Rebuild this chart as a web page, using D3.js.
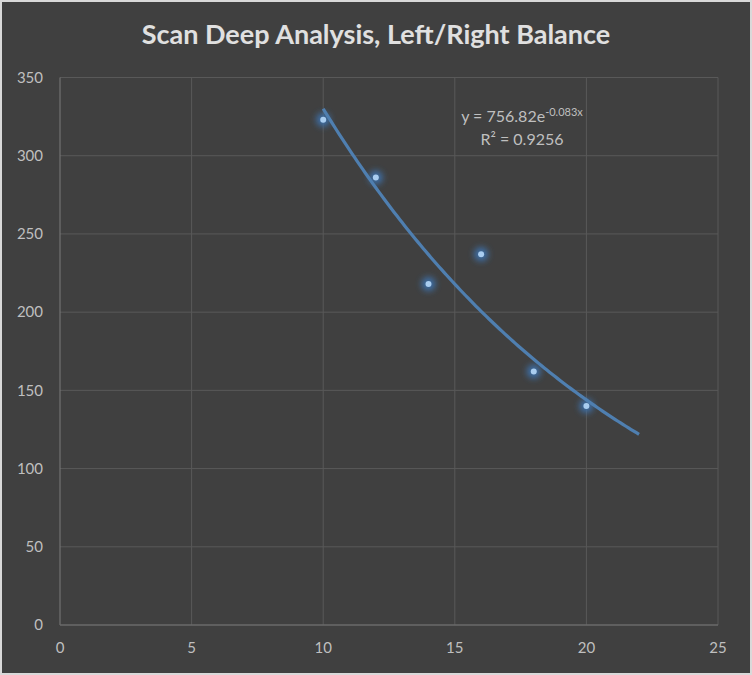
<!DOCTYPE html>
<html>
<head>
<meta charset="utf-8">
<script src="https://cdn.jsdelivr.net/npm/d3@7"></script>
<style>
  body { margin: 0; background: #fff; }
  text { font-family: Lato, "Open Sans", sans-serif; }
</style>
</head>
<body>
<div id="chart"></div>
<script>
// data
const xValues = [10, 12, 14, 16, 18, 20];
const yValues = [323, 286, 218, 237, 162, 140];
const xTicks = [0, 5, 10, 15, 20, 25];
const yTicks = [0, 50, 100, 150, 200, 250, 300, 350];
const trendA = 756.82;
const trendB = -0.083;
const trendRange = [10, 22];

const width = 752, height = 675;
const margin = { top: 77.5, right: 34, bottom: 50, left: 60 };

const svg = d3.select("#chart").append("svg")
  .attr("width", width).attr("height", height);

const defs = svg.append("defs");
const glow = defs.append("filter").attr("id", "glow")
  .attr("x", "-100%").attr("y", "-100%").attr("width", "300%").attr("height", "300%");
glow.append("feGaussianBlur").attr("stdDeviation", 3);

// background + border
svg.append("rect")
  .attr("x", 1).attr("y", 1).attr("width", width - 2).attr("height", height - 2)
  .attr("fill", "#404040").attr("stroke", "#d9d9d9").attr("stroke-width", 2);

// scales
const x = d3.scaleLinear().domain([0, 25]).range([margin.left, width - margin.right]);
const y = d3.scaleLinear().domain([0, 350]).range([height - margin.bottom, margin.top]);

// grid
svg.append("g").selectAll("line")
  .data(yTicks.filter(d => d > 0))
  .join("line")
  .attr("x1", x(0)).attr("x2", x(25))
  .attr("y1", d => y(d)).attr("y2", d => y(d))
  .attr("stroke", "#595959").attr("stroke-width", 1);

svg.append("g").selectAll("line")
  .data(xTicks.filter(d => d > 0))
  .join("line")
  .attr("x1", d => x(d)).attr("x2", d => x(d))
  .attr("y1", y(0)).attr("y2", y(350))
  .attr("stroke", "#595959").attr("stroke-width", 1);

// axis lines
svg.append("line")
  .attr("x1", x(0)).attr("x2", x(0)).attr("y1", y(0)).attr("y2", y(350))
  .attr("stroke", "#7a7a7a").attr("stroke-width", 1);
svg.append("line")
  .attr("x1", x(0)).attr("x2", x(25)).attr("y1", y(0)).attr("y2", y(0))
  .attr("stroke", "#6a6a6a").attr("stroke-width", 1.5);

// tick labels
svg.append("g").selectAll("text")
  .data(yTicks)
  .join("text")
  .attr("x", 43).attr("y", d => y(d))
  .attr("dy", "0.35em")
  .attr("text-anchor", "end")
  .attr("fill", "#bfbfbf")
  .style("font-size", "15px")
  .text(d => d);

svg.append("g").selectAll("text")
  .data(xTicks)
  .join("text")
  .attr("x", d => x(d)).attr("y", y(0) + 28)
  .attr("text-anchor", "middle")
  .attr("fill", "#bfbfbf")
  .style("font-size", "15px")
  .text(d => d);

// title
svg.append("text")
  .attr("x", width / 2).attr("y", 44)
  .attr("text-anchor", "middle")
  .attr("fill", "#e0e0e0")
  .style("font-size", "27px")
  .style("font-weight", "bold")
  .text("Scan Deep Analysis, Left/Right Balance");

// points
const pts = xValues.map((d, i) => ({ x: d, y: yValues[i] }));
svg.append("g").selectAll("circle")
  .data(pts)
  .join("circle")
  .attr("cx", d => x(d.x)).attr("cy", d => y(d.y))
  .attr("r", 7)
  .attr("fill", "#3d6fa8")
  .attr("filter", "url(#glow)");

// trendline
const trendPts = d3.range(trendRange[0], trendRange[1] + 0.001, 0.1)
  .map(v => ({ x: v, y: trendA * Math.exp(trendB * v) }));
svg.append("path")
  .datum(trendPts)
  .attr("d", d3.line().x(d => x(d.x)).y(d => y(d.y)))
  .attr("fill", "none")
  .attr("stroke", "#4f7fb0")
  .attr("stroke-width", 3.2);

svg.append("g").selectAll("circle")
  .data(pts)
  .join("circle")
  .attr("cx", d => x(d.x)).attr("cy", d => y(d.y))
  .attr("r", 3)
  .attr("fill", "#a9cdf0");

// trendline label
const eq = svg.append("text")
  .attr("x", 522).attr("y", 122)
  .attr("text-anchor", "middle")
  .attr("fill", "#bfbfbf")
  .style("font-size", "16px");
eq.append("tspan").text("y = 756.82e");
eq.append("tspan").attr("dy", -6).style("font-size", "11px").text("-0.083x");

svg.append("text")
  .attr("x", 522).attr("y", 145)
  .attr("text-anchor", "middle")
  .attr("fill", "#bfbfbf")
  .style("font-size", "16px")
  .text("R² = 0.9256");
</script>
</body>
</html>
